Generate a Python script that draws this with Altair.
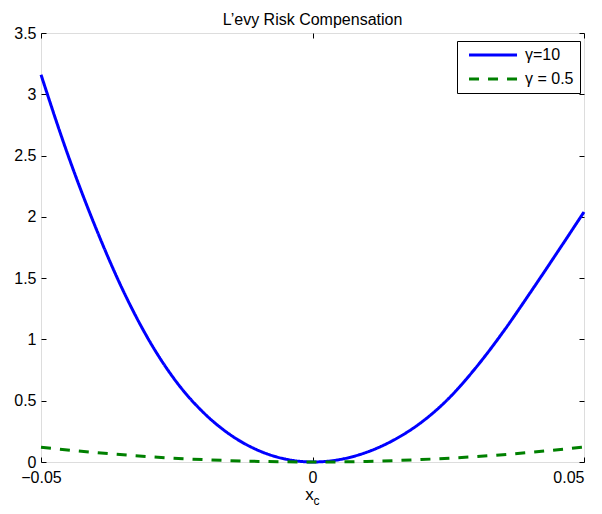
import altair as alt
import pandas as pd

# Values
blue_x = [-0.05, -0.045, -0.04, -0.035, -0.03, -0.025, -0.02, -0.015, -0.01, -0.005,
          0.0, 0.005, 0.01, 0.015, 0.02, 0.025, 0.03, 0.035, 0.04, 0.045, 0.05]
blue_y = [3.16, 2.50, 1.92, 1.41, 0.985, 0.65, 0.40, 0.218, 0.095, 0.024,
          0.0, 0.02, 0.08, 0.18, 0.322, 0.515, 0.765, 1.055, 1.375, 1.705, 2.04]

green_x = [-0.05, -0.04, -0.03, -0.02, -0.01, 0.0, 0.01, 0.02, 0.03, 0.04, 0.05]
green_y = [0.12, 0.077, 0.043, 0.019, 0.005, 0.0, 0.005, 0.02, 0.044, 0.078, 0.123]

series_labels = ["γ=10", "γ = 0.5"]
series_colors = ["#0000ff", "#008000"]
series_dash = [[1, 0], [10, 9]]

x_ticks = [-0.05, 0, 0.05]
y_ticks = [0, 0.5, 1, 1.5, 2, 2.5, 3, 3.5]

df = pd.concat([
    pd.DataFrame({"x": blue_x, "y": blue_y, "series": series_labels[0]}),
    pd.DataFrame({"x": green_x, "y": green_y, "series": series_labels[1]}),
])

FONT = "Liberation Sans"
W, H = 543, 429

xscale = alt.Scale(domain=[-0.05, 0.05], nice=False, zero=False)
yscale = alt.Scale(domain=[0, 3.5], nice=False)

legend = alt.Legend(
    title=None, orient="none", legendX=416, legendY=8,
    strokeColor="black", fillColor="white", padding=6, cornerRadius=0,
    symbolType="M-0.33,0H7.67", symbolSize=144, symbolStrokeWidth=3,
    labelFont=FONT, labelFontSize=16, labelColor="black", labelOffset=46,
    rowPadding=8,
)

common_axis = dict(
    tickSize=5, offset=-5, domain=False, grid=False, tickColor="black",
    labelFont=FONT, labelFontSize=16, labelColor="black", labelFlush=False,
)

main = alt.Chart(df).mark_line(strokeWidth=3, interpolate="monotone").encode(
    x=alt.X("x:Q", scale=xscale, axis=alt.Axis(
        orient="bottom", values=x_ticks, format="~g", labelPadding=7,
        labelAlign={"condition": {"test": "datum.value > 0.01", "value": "right"},
                    "value": "center"},
        title="x", titleX=268, titleY=42, titleBaseline="alphabetic", titleAlign="center",
        titleFont=FONT, titleFontSize=17, titleFontWeight="normal", titleColor="black",
        **common_axis)),
    y=alt.Y("y:Q", scale=yscale, axis=alt.Axis(
        orient="left", values=y_ticks, format="~g", labelPadding=5, title=None,
        **common_axis)),
    color=alt.Color("series:N", scale=alt.Scale(domain=series_labels, range=series_colors),
                    legend=legend),
    strokeDash=alt.StrokeDash("series:N", scale=alt.Scale(domain=series_labels, range=series_dash),
                              legend=legend),
)

mirror = alt.Chart(df).mark_line(opacity=0).encode(
    x=alt.X("x:Q", scale=xscale, axis=alt.Axis(
        orient="top", values=x_ticks, labels=False,
        title="c", titleX=275, titleY=H + 37, titleBaseline="alphabetic", titleAlign="center",
        titleFont=FONT, titleFontSize=12, titleFontWeight="normal", titleColor="black",
        **common_axis)),
    y=alt.Y("y:Q", scale=yscale, axis=alt.Axis(
        orient="right", values=y_ticks, labels=False, title=None, **common_axis)),
    detail="series:N",
)

chart = alt.layer(main, mirror).resolve_axis(x="independent", y="independent").properties(
    width=W, height=H,
    autosize=alt.AutoSizeParams(type="none"),
    padding={"left": 33, "top": 25, "right": 10, "bottom": 44},
    title=alt.Title("L’evy Risk Compensation", font=FONT, fontSize=16, fontWeight="normal",
                    color="black", offset=-3, anchor="middle"),
).configure_view(stroke="black", strokeWidth=1).configure(background="white")

chart.save("out.html", embed_options={"renderer": "svg", "actions": False})
